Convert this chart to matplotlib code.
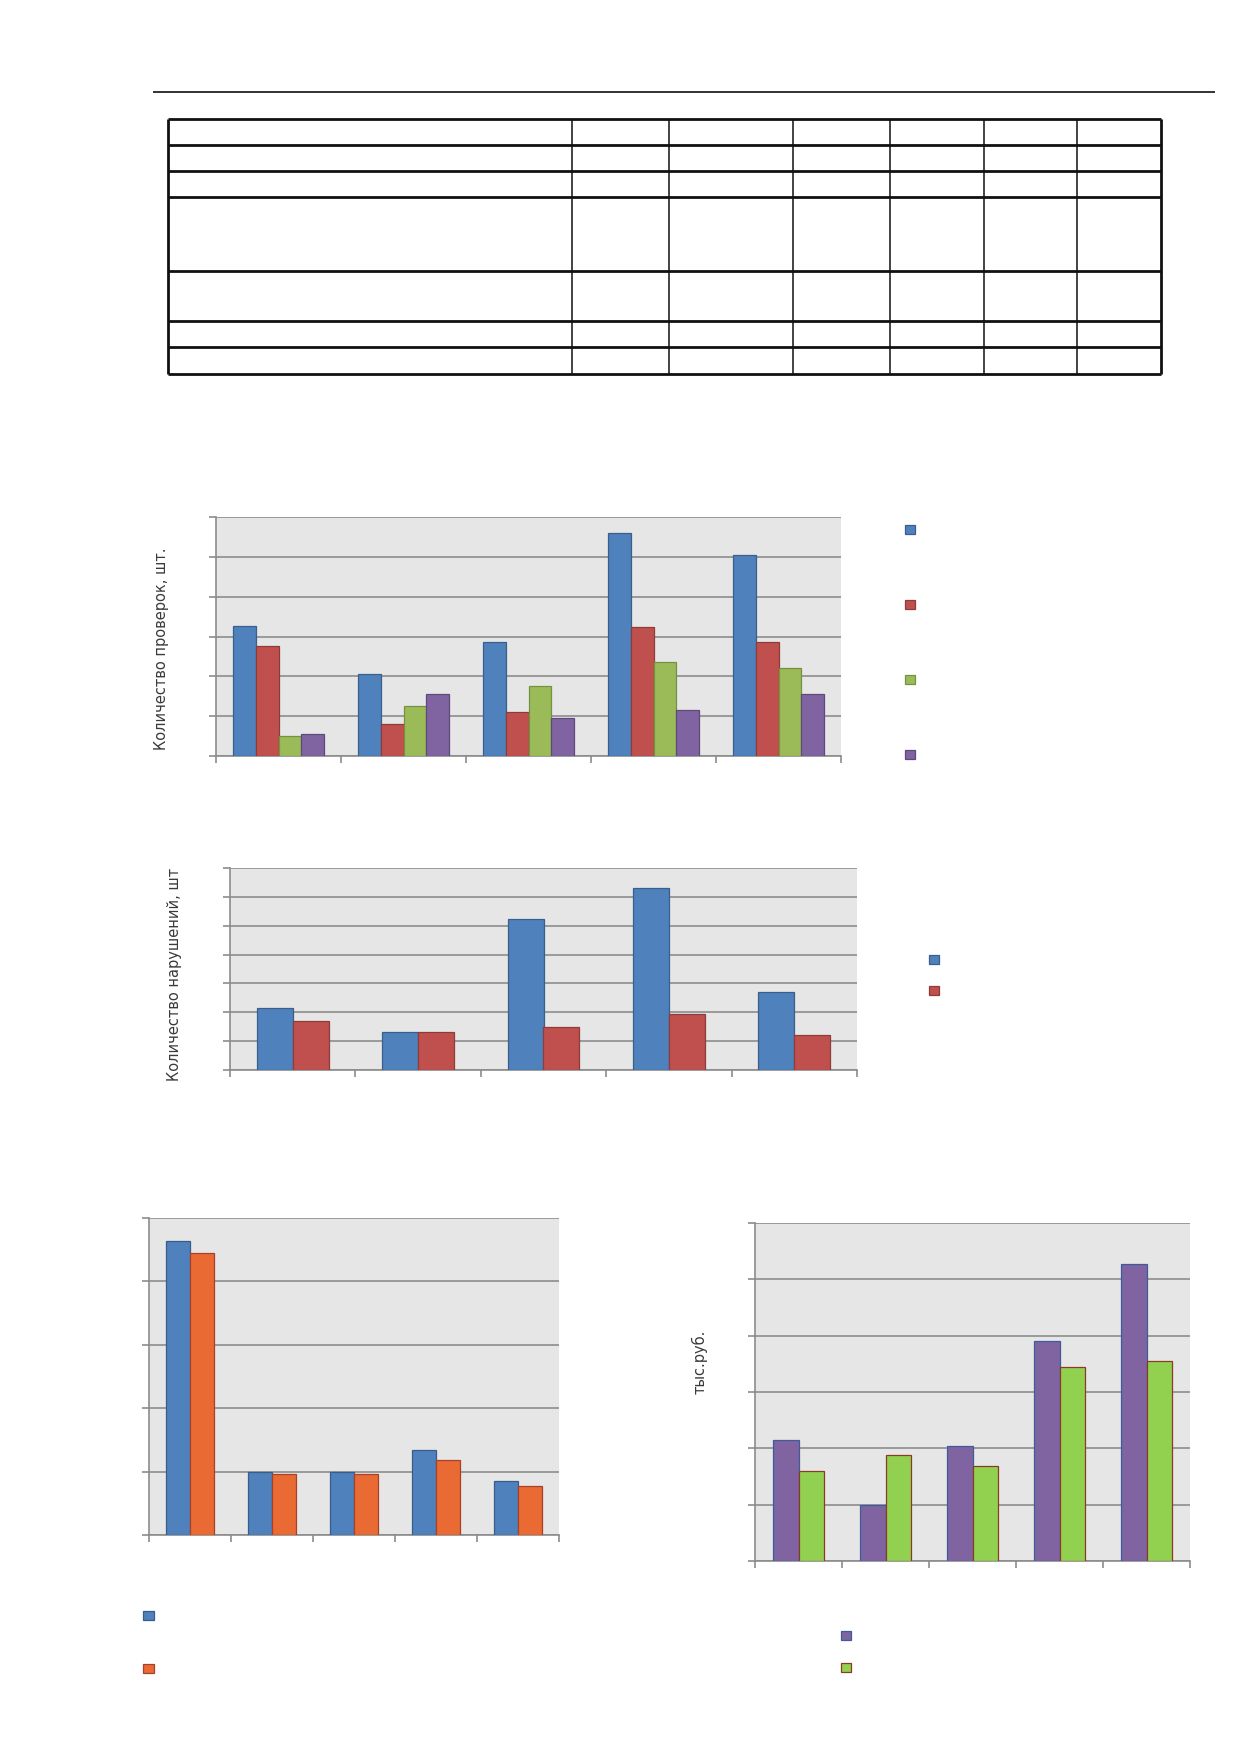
"""
Page scan rebuild: empty table on top, four clustered bar charts below
(no tick labels, legends without text), saved to out.png.
"""

import numpy as np
import matplotlib
matplotlib.use("Agg")
import matplotlib.pyplot as plt

W, H = 1239, 1754

# --- data (units = arbitrary gridline steps) -------------------------------
checks_blue = [32.6, 20.5, 28.5, 56.0, 50.5]
checks_red = [27.5, 8.0, 11.0, 32.5, 28.5]
checks_green = [5.0, 12.5, 17.5, 23.5, 22.0]
checks_purple = [5.5, 15.5, 9.5, 11.5, 15.5]

viol_blue = [21.5, 13.0, 52.5, 63.0, 27.0]
viol_red = [17.0, 13.0, 15.0, 19.5, 12.0]

amount_blue = [92.6, 20.0, 20.0, 26.8, 17.0]
amount_orange = [89.0, 19.1, 19.1, 23.6, 15.5]

rub_purple = [214, 99, 205, 391, 528]
rub_green = [160, 188, 168, 344, 355]

ylabel_checks = "Количество проверок, шт."
ylabel_viol = "Количество нарушений, шт"
ylabel_rub = "тыс.руб."

BG = "#e6e6e6"
GRID = "#8c8c8c"
TXT = "#3a3a3a"

plt.rcParams["font.family"] = ["DejaVu Sans"]

fig = plt.figure(figsize=(W / 100, H / 100), dpi=100)


def px_axes(x0, y0, x1, y1, **kw):
    return fig.add_axes([x0 / W, 1 - y1 / H, (x1 - x0) / W, (y1 - y0) / H], **kw)


# --- page: rule + empty table ---------------------------------------------
page = px_axes(0, 0, W, H, zorder=0)
page.set_xlim(0, W)
page.set_ylim(H, 0)
page.axis("off")

page.hlines(92, 153, 1215, color="#222222", lw=1.3)

col_x = [168, 572, 669, 793, 890, 984, 1077, 1161]
row_y = [119, 145, 171, 197, 271, 321, 347, 374]
page.hlines(row_y, col_x[0], col_x[-1], color="#111111", lw=2.0)
page.vlines(col_x[1:-1], row_y[0], row_y[-1], color="#111111", lw=1.1)
page.vlines([col_x[0], col_x[-1]], row_y[0], row_y[-1], color="#111111", lw=2.0)


def bar_chart(ax, series, colors, edges, ymax, step, width):
    n = len(series)
    x = np.arange(len(series[0]))
    bars = []
    for i, (vals, c, e) in enumerate(zip(series, colors, edges)):
        off = (i - (n - 1) / 2) * width
        bars.append(ax.bar(x + off, vals, width, color=c, edgecolor=e,
                           linewidth=0.9, zorder=3))
    ax.set_xlim(-0.5, len(x) - 0.5)
    ax.set_ylim(0, ymax)
    ax.set_yticks(np.arange(0, ymax + step / 2, step))
    ax.set_xticks(np.arange(-0.5, len(x), 1.0))
    ax.tick_params(labelleft=False, labelbottom=False, length=5, width=1.2,
                   color=GRID)
    ax.set_facecolor(BG)
    ax.grid(axis="y", color=GRID, lw=1.2)
    ax.set_axisbelow(True)
    for s in ("top", "right"):
        ax.spines[s].set_visible(False)
    for s in ("left", "bottom"):
        ax.spines[s].set_color(GRID)
        ax.spines[s].set_linewidth(1.2)
    return bars


def empty_legend(ax, bars, x, y, size_px, gap_px):
    fs = 6.0
    fs_px = fs * 100 / 72
    row = max(size_px, fs_px * 1.17)
    leg = ax.legend([b[0] for b in bars], [""] * len(bars), loc="upper left",
                    bbox_to_anchor=(x / W, 1 - y / H), bbox_transform=fig.transFigure,
                    frameon=False, fontsize=fs, borderpad=0, borderaxespad=0,
                    handlelength=size_px / fs_px, handleheight=size_px / fs_px,
                    handletextpad=0.2, labelspacing=(gap_px - row) / fs_px)
    return leg


# --- chart 1: checks --------------------------------------------------------
ax1 = px_axes(216, 517, 841, 756)
b1 = bar_chart(ax1, [checks_blue, checks_red, checks_green, checks_purple],
               ["#4f81bd", "#c0504d", "#9bbb59", "#8064a2"],
               ["#3a5f8c", "#8e3b39", "#74913f", "#5e4a7a"], 60, 10, 0.182)
ax1.set_ylabel(ylabel_checks, fontsize=10.5, color=TXT)
ax1.yaxis.set_label_coords(-0.075, 0.45)
empty_legend(ax1, b1, 905, 525, 10, 76)

# --- chart 2: violations ----------------------------------------------------
ax2 = px_axes(230, 868, 857, 1070)
b2 = bar_chart(ax2, [viol_blue, viol_red], ["#4f81bd", "#c0504d"],
               ["#3a5f8c", "#8e3b39"], 70, 10, 0.286)
ax2.set_ylabel(ylabel_viol, fontsize=10.5, color=TXT)
ax2.yaxis.set_label_coords(-0.076, 0.475)
empty_legend(ax2, b2, 929, 955, 10, 32)

# --- chart 3: amounts -------------------------------------------------------
ax3 = px_axes(149, 1218, 559, 1535)
b3 = bar_chart(ax3, [amount_blue, amount_orange], ["#4f81bd", "#e96a32"],
               ["#385d8a", "#a8402a"], 100, 20, 0.29)
empty_legend(ax3, b3, 143, 1611, 10.5, 54)

# --- chart 4: thousand roubles ---------------------------------------------
ax4 = px_axes(755, 1223, 1190, 1561)
b4 = bar_chart(ax4, [rub_purple, rub_green], ["#8064a2", "#92d050"],
               ["#3e5c99", "#8b3a25"], 600, 100, 0.289)
ax4.set_ylabel(ylabel_rub, fontsize=10.5, color=TXT)
ax4.yaxis.set_label_coords(-0.108, 0.589)
empty_legend(ax4, b4, 841, 1631, 10, 33)

fig.savefig("out.png", dpi=100)
